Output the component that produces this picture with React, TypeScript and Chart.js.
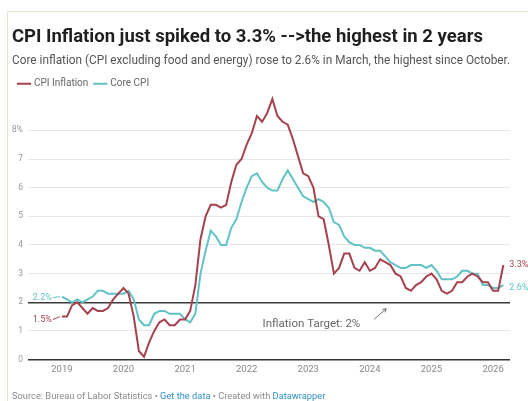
import { useEffect, useRef } from "react";
import { Chart, registerables } from "chart.js";

Chart.register(...registerables);

const startYear = 2019;
const xTickYears = [2019, 2020, 2021, 2022, 2023, 2024, 2025, 2026];
const yTickValues = [0, 1, 2, 3, 4, 5, 6, 7, 8];

// Monthly YoY %, Jan 2019 – Mar 2026
const cpiInflation = [
  1.5, 1.5, 1.9, 2.0, 1.8, 1.6, 1.8, 1.7, 1.7, 1.8, 2.1, 2.3,
  2.5, 2.3, 1.5, 0.3, 0.1, 0.6, 1.0, 1.3, 1.4, 1.2, 1.2, 1.4,
  1.4, 1.7, 2.6, 4.2, 5.0, 5.4, 5.4, 5.3, 5.4, 6.2, 6.8, 7.0,
  7.5, 7.9, 8.5, 8.3, 8.6, 9.1, 8.5, 8.3, 8.2, 7.7, 7.1, 6.5,
  6.4, 6.0, 5.0, 4.9, 4.0, 3.0, 3.2, 3.7, 3.7, 3.2, 3.1, 3.4,
  3.1, 3.2, 3.5, 3.4, 3.3, 3.0, 2.9, 2.5, 2.4, 2.6, 2.7, 2.9,
  3.0, 2.8, 2.4, 2.3, 2.4, 2.7, 2.7, 2.9, 3.0, 2.9, 2.7, 2.7,
  2.4, 2.4, 3.3,
];
const coreCpi = [
  2.2, 2.1, 2.0, 2.1, 2.0, 2.1, 2.2, 2.4, 2.4, 2.3, 2.3, 2.3,
  2.3, 2.4, 2.1, 1.4, 1.2, 1.2, 1.6, 1.7, 1.7, 1.6, 1.6, 1.6,
  1.4, 1.3, 1.6, 3.0, 3.8, 4.5, 4.3, 4.0, 4.0, 4.6, 4.9, 5.5,
  6.0, 6.4, 6.5, 6.2, 6.0, 5.9, 5.9, 6.3, 6.6, 6.3, 6.0, 5.7,
  5.6, 5.5, 5.6, 5.5, 5.3, 4.8, 4.7, 4.3, 4.1, 4.0, 4.0, 3.9,
  3.9, 3.8, 3.8, 3.6, 3.4, 3.3, 3.2, 3.2, 3.3, 3.3, 3.3, 3.2,
  3.3, 3.1, 2.8, 2.8, 2.8, 2.9, 3.1, 3.1, 3.0, 3.0, 2.6, 2.6,
  2.5, 2.5, 2.6,
];

const seriesNames = ["CPI Inflation", "Core CPI"];
const seriesColors = ["#a5424e", "#62c2c5"];
const targetValue = 2;
const targetLabel = "Inflation Target: 2%";
const titleText = "CPI Inflation just spiked to 3.3% -->the highest in 2 years";
const subtitleText =
  "Core inflation (CPI excluding food and energy) rose to 2.6% in March, the highest since October.";

const FONT = "Roboto, 'Noto Sans', sans-serif";

const toPoints = (arr: number[]) => arr.map((v, i) => ({ x: i, y: v }));

const decorPlugin = {
  id: "decor",
  beforeDraw(chart: any) {
    const { ctx, width, height } = chart;
    ctx.save();
    ctx.fillStyle = "#ffffff";
    ctx.fillRect(0, 0, width, height);
    ctx.strokeStyle = "#e3e7d6";
    ctx.lineWidth = 1;
    ctx.beginPath();
    ctx.moveTo(7.5, height);
    ctx.lineTo(7.5, 11.5);
    ctx.lineTo(width, 11.5);
    ctx.stroke();
    ctx.restore();
  },
  afterDatasetsDraw(chart: any) {
    const { ctx } = chart;
    const xs = chart.scales.x;
    const ys = chart.scales.y;
    ctx.save();
    ctx.font = `9px ${FONT}`;
    ctx.textBaseline = "middle";
    chart.data.datasets.forEach((ds: any, di: number) => {
      const meta = chart.getDatasetMeta(di);
      const first = meta.data[0];
      const last = meta.data[meta.data.length - 1];
      const color = seriesColors[di];
      const fv = ds.data[0].y;
      const lv = ds.data[ds.data.length - 1].y;
      ctx.fillStyle = color;
      ctx.strokeStyle = color;
      ctx.lineWidth = 1;
      // left label
      const ly = first.y + (di === 0 ? 3 : 1);
      ctx.textAlign = "right";
      ctx.fillText(`${fv.toFixed(1)}%`, first.x - 10, ly);
      ctx.beginPath();
      ctx.moveTo(first.x - 9, ly);
      ctx.lineTo(first.x - 2, first.y);
      ctx.stroke();
      // right label
      ctx.textAlign = "left";
      ctx.fillText(`${lv.toFixed(1)}%`, last.x + 6, last.y + (di === 1 ? 3 : 0));
    });

    // target annotation
    ctx.fillStyle = "#666";
    ctx.font = `11.5px ${FONT}`;
    ctx.textAlign = "left";
    ctx.fillText(targetLabel, xs.getPixelForValue(39.1), ys.getPixelForValue(1.23));
    const ax0 = xs.getPixelForValue(60.8);
    const ay0 = ys.getPixelForValue(1.4);
    const ax1 = xs.getPixelForValue(63.2);
    const ay1 = ys.getPixelForValue(1.78);
    ctx.strokeStyle = "#777";
    ctx.lineWidth = 1;
    ctx.beginPath();
    ctx.moveTo(ax0, ay0);
    ctx.lineTo(ax1, ay1);
    ctx.stroke();
    const ang = Math.atan2(ay1 - ay0, ax1 - ax0);
    ctx.beginPath();
    ctx.moveTo(ax1, ay1);
    ctx.lineTo(ax1 - 4 * Math.cos(ang - 0.5), ay1 - 4 * Math.sin(ang - 0.5));
    ctx.moveTo(ax1, ay1);
    ctx.lineTo(ax1 - 4 * Math.cos(ang + 0.5), ay1 - 4 * Math.sin(ang + 0.5));
    ctx.stroke();
    ctx.restore();
  },
  afterDraw(chart: any) {
    const { ctx } = chart;
    ctx.save();
    ctx.font = `9.3px ${FONT}`;
    ctx.textBaseline = "middle";
    ctx.textAlign = "left";
    const parts: [string, string][] = [
      ["Source: Bureau of Labor Statistics • ", "#8a8a8a"],
      ["Get the data", "#2f8fc9"],
      [" • Created with ", "#8a8a8a"],
      ["Datawrapper", "#2f8fc9"],
    ];
    let x = 12;
    const y = 397;
    parts.forEach(([t, c]) => {
      ctx.fillStyle = c;
      ctx.fillText(t, x, y);
      x += ctx.measureText(t).width;
    });
    ctx.restore();
  },
};

export default function App() {
  const canvasRef = useRef<HTMLCanvasElement | null>(null);

  useEffect(() => {
    document.body.style.margin = "0";
    const canvas = canvasRef.current;
    if (!canvas) return;
    const chart = new Chart(canvas, {
      type: "line",
      data: {
        datasets: [
          {
            label: seriesNames[0],
            data: toPoints(cpiInflation),
            borderColor: seriesColors[0],
            backgroundColor: seriesColors[0],
            borderWidth: 2,
            pointRadius: 0,
            tension: 0,
            clip: false,
          },
          {
            label: seriesNames[1],
            data: toPoints(coreCpi),
            borderColor: seriesColors[1],
            backgroundColor: seriesColors[1],
            borderWidth: 2,
            pointRadius: 0,
            tension: 0,
            clip: false,
          },
        ],
      },
      options: {
        animation: false,
        responsive: false,
        devicePixelRatio: 1,
        layout: { padding: { left: 12, right: 18, top: 14, bottom: 22 } },
        plugins: {
          title: {
            display: true,
            text: titleText,
            align: "start",
            color: "#1f1f1f",
            font: { family: FONT, size: 18.5, weight: "bold" },
            padding: { top: 12, bottom: 3 },
          },
          subtitle: {
            display: true,
            text: subtitleText,
            align: "start",
            color: "#555",
            font: { family: FONT, size: 12.2 },
            padding: { top: 2, bottom: 4 },
          },
          legend: {
            display: true,
            position: "top",
            align: "start",
            labels: {
              usePointStyle: true,
              pointStyle: "line",
              boxWidth: 12,
              padding: 7,
              color: "#666",
              font: { family: FONT, size: 10 },
            },
          },
          tooltip: { enabled: false },
        },
        scales: {
          x: {
            type: "linear",
            min: -6.6,
            max: 87.3,
            grid: { display: false, drawTicks: false },
            border: { display: false },
            afterBuildTicks: (scale: any) => {
              scale.ticks = xTickYears.map((y) => ({ value: (y - startYear) * 12 }));
            },
            ticks: {
              padding: 4,
              color: "#888",
              font: { family: FONT, size: 9.5 },
              maxRotation: 0,
              autoSkip: false,
              callback: (v: any) => String(startYear + Math.round(Number(v) / 12)),
            },
          },
          y: {
            min: 0,
            max: 9.1,
            afterFit: (scale: any) => {
              scale.width = 16;
            },
            afterBuildTicks: (scale: any) => {
              scale.ticks = yTickValues.map((v) => ({ value: v }));
            },
            border: { display: false },
            grid: {
              drawTicks: false,
              color: (c: any) =>
                c.tick && c.tick.value === 0
                  ? "#333"
                  : c.tick && c.tick.value === targetValue
                  ? "#3a3a3a"
                  : "#e6e6e6",
              lineWidth: (c: any) =>
                c.tick && (c.tick.value === 0 || c.tick.value === targetValue) ? 1.5 : 1,
            },
            ticks: {
              padding: 5,
              color: "#999",
              font: { family: FONT, size: 8.5 },
              callback: (v: any) => (Number(v) === 8 ? "8%" : String(v)),
            },
          },
        },
      },
      plugins: [decorPlugin],
    });
    return () => chart.destroy();
  }, []);

  return (
    <div style={{ width: 528, height: 401 }}>
      <canvas ref={canvasRef} width={528} height={401} style={{ display: "block" }} />
    </div>
  );
}
